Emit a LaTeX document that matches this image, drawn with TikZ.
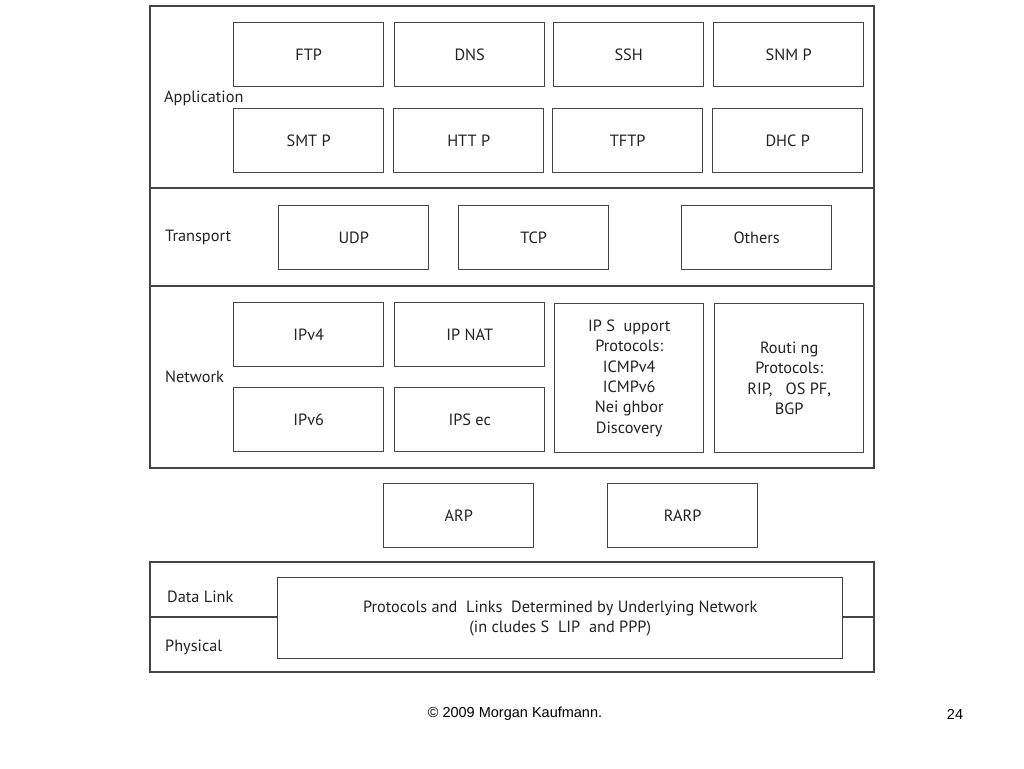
\documentclass[tikz,border=0pt]{standalone}
\usepackage{fontspec}
\setmainfont{PT Sans}
\newfontfamily\footfont{Liberation Sans}
\definecolor{linegray}{HTML}{444444}
\definecolor{textgray}{HTML}{222222}
\tikzset{
  protonode/.style = {draw=linegray, fill=white, line width=1.4pt, rectangle,
    anchor=north west, inner sep=0pt, align=center, text=textgray,
    font=\fontsize{16.3}{20.4}\selectfont},
  proto_n/.style = {protonode, minimum width=150pt, minimum height=64pt},
  layer_n/.style = {anchor=west, inner sep=0pt, text=textgray,
    font=\fontsize{16.3}{18}\selectfont},
  layerbox/.style = {draw=linegray, line width=1.4pt},
  foot_n/.style = {inner sep=0pt, font=\footfont\fontsize{14.5}{16}\selectfont}}

\begin{document}
\begin{tikzpicture}[x=1pt,y=-1pt]
 \useasboundingbox (0,0) rectangle (1024,768);

 % layer frames
 \draw[layerbox] (150,6) rectangle (874,468);
 \draw[layerbox] (150,188) -- (874,188);
 \draw[layerbox] (150,286) -- (874,286);
 \draw[layerbox] (150,562) rectangle (874,672);
 \draw[layerbox] (150,617) -- (874,617);

 % layer names
 \node [layer_n] (app) at (164,98) {Application};
 \node [layer_n] (trans) at (165,237) {Transport};
 \node [layer_n] (net) at (165,377) {Network};
 \node [layer_n] (dl) at (167,597) {Data Link};
 \node [layer_n] (phy) at (165,647) {Physical};

 % application
 \node [proto_n] (ftp) at (233,22) {FTP};
 \node [proto_n] (dns) at (394,22) {DNS};
 \node [proto_n] (ssh) at (553,22) {SSH};
 \node [proto_n] (snmp) at (713,22) {SNM P};
 \node [proto_n] (smtp) at (233,108) {SMT P};
 \node [proto_n] (http) at (393,108) {HTT P};
 \node [proto_n] (tftp) at (552,108) {TFTP};
 \node [proto_n] (dhcp) at (712,108) {DHC P};

 % transport
 \node [proto_n] (udp) at (278,205) {UDP};
 \node [proto_n] (tcp) at (458,205) {TCP};
 \node [proto_n] (others) at (681,205) {Others};

 % network
 \node [proto_n] (ipv4) at (233,302) {IPv4};
 \node [proto_n] (ipnat) at (394,302) {IP NAT};
 \node [proto_n] (ipv6) at (233,387) {IPv6};
 \node [proto_n] (ipsec) at (394,387) {IPS ec};
 \node [protonode, minimum width=149pt, minimum height=149pt] (ipsup) at (554,303)
   {IP S\ \ upport\\Protocols:\\ICMPv4\\ICMPv6\\Nei ghbor\\Discovery};
 \node [protonode, minimum width=149pt, minimum height=149pt] (routing) at (714,303)
   {Routi ng\\Protocols:\\RIP,\ \ \ OS PF,\\BGP};

 % arp
 \node [proto_n] (arp) at (383,483) {ARP};
 \node [proto_n] (rarp) at (607,483) {RARP};

 % data link / physical
 \node [protonode, minimum width=565pt, minimum height=81pt] (links) at (277,577)
   {Protocols and\ \ Links\ \ Determined by Underlying Network\\(in cludes S\ \ LIP\ \ and PPP)};

 % footer
 \node [foot_n] (copy) at (515,714) {\textcopyright\ 2009 Morgan Kaufmann.};
 \node [foot_n] (page) at (955,714) {24};
\end{tikzpicture}
\end{document}
